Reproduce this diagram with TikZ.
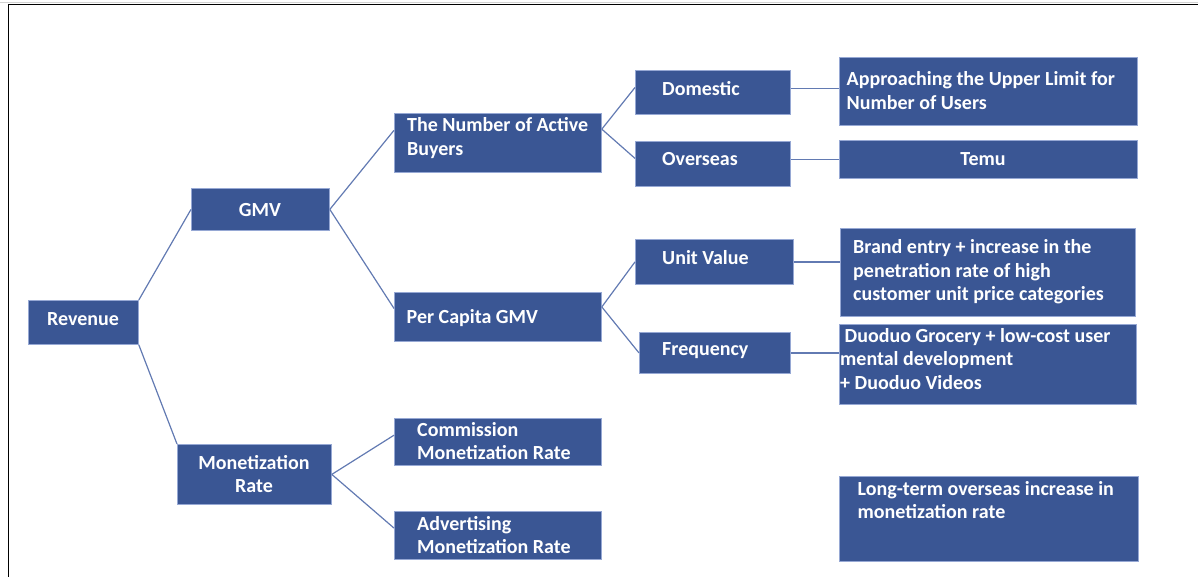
\documentclass[tikz,border=0pt]{standalone}
\usepackage{fontspec}
\setmainfont{Carlito}
\usetikzlibrary{calc}

\definecolor{boxblue}{RGB}{58,86,148}
\definecolor{boxedge}{RGB}{150,168,212}
\definecolor{linkblue}{RGB}{98,122,178}

% stacked text lines whose baseline is that of the first line
\newcommand\rowsL[1]{\vtop{\halign{##\hfil\cr#1\crcr}}}
\newcommand\rowsC[1]{\vtop{\halign{\hfil##\hfil\cr#1\crcr}}}

\begin{document}
\begin{tikzpicture}[x=1pt, y=-1pt,
  box/.style={rectangle, fill=boxblue, draw=boxedge, line width=0.8pt,
              inner sep=0pt, anchor=north west},
  txt/.style={text=white, inner sep=0pt, anchor=base west,
              font=\fontsize{20}{23.3}\selectfont\bfseries},
  txtc/.style={txt, anchor=base},
  link/.style={draw=linkblue, line width=1.2pt}]

\useasboundingbox (0,0) rectangle (1198,577);

% page frame
\draw[gray!35, line width=1pt] (0,2.5) coordinate (gl) -- (1198,2.5) coordinate (gr);
\coordinate (fbl) at (8.5,577);
\coordinate (ftl) at (8.5,4.5);
\coordinate (ftr) at (1198,4.5);
\draw[black, line width=1.2pt] (fbl) -- (ftl) -- (ftr);

% boxes
\node[box, minimum width=110pt, minimum height=44pt] (rev)   at (28,300)  {};
\node[box, minimum width=138pt, minimum height=42pt] (gmv)   at (191,188) {};
\node[box, minimum width=154pt, minimum height=60pt] (mon)   at (177,444) {};
\node[box, minimum width=207pt, minimum height=59pt] (buy)   at (394,113) {};
\node[box, minimum width=207pt, minimum height=49pt] (pc)    at (394,292) {};
\node[box, minimum width=207pt, minimum height=47pt] (com)   at (394,418) {};
\node[box, minimum width=207pt, minimum height=48pt] (adv)   at (394,511) {};
\node[box, minimum width=155pt, minimum height=44pt] (dom)   at (635,70)  {};
\node[box, minimum width=155pt, minimum height=45pt] (ovs)   at (635,141) {};
\node[box, minimum width=158pt, minimum height=45pt] (unit)  at (635,239) {};
\node[box, minimum width=151pt, minimum height=41pt] (freq)  at (639,332) {};
\node[box, minimum width=298pt, minimum height=68pt] (app)   at (839,57)  {};
\node[box, minimum width=298pt, minimum height=38pt] (temu)  at (839,140) {};
\node[box, minimum width=295pt, minimum height=88pt] (brand) at (840,228) {};
\node[box, minimum width=297pt, minimum height=80pt] (duo)   at (839,324) {};
\node[box, minimum width=299pt, minimum height=85pt] (lt)    at (839,476) {};

% box texts
\node[txtc] (rev-t)   at (83,325)    {Revenue};
\node[txtc] (gmv-t)   at (260,217)   {GMV};
\node[txtc] (mon-t)   at (254,469)   {\rowsC{Monetization\cr Rate}};
\node[txt]  (buy-t)   at (407,132)   {\rowsL{The Number of Active\cr Buyers}};
\node[txt]  (pc-t)    at (406.5,323.5) {Per Capita GMV};
\node[txt]  (com-t)   at (417,436.5) {\rowsL{Commission\cr Monetization Rate}};
\node[txt]  (adv-t)   at (417,530)   {\rowsL{Advertising\cr Monetization Rate}};
\node[txt]  (dom-t)   at (662,95.5)  {Domestic};
\node[txt]  (ovs-t)   at (662,166)   {Overseas};
\node[txt]  (unit-t)  at (662,264)   {Unit Value};
\node[txt]  (freq-t)  at (662,355.5) {Frequency};
\node[txt]  (app-t)   at (846.5,86)  {\rowsL{Approaching the Upper Limit for\cr Number of Users}};
\node[txtc] (temu-t)  at (983,165.5) {Temu};
\node[txt]  (brand-t) at (853,254)   {\rowsL{Brand entry + increase in the\cr penetration rate of high\cr customer unit price categories}};
\node[txt]  (duo-t)   at (840,342.5) {\rowsL{\ Duoduo Grocery + low-cost user\cr mental development\cr + Duoduo Videos}};
\node[txt]  (lt-t)    at (857.5,495) {\rowsL{Long-term overseas increase in\cr monetization rate}};

% connectors
\draw[link] (rev.north east) -- (gmv.west);
\draw[link] (rev.south east) -- (mon.north west);
\draw[link] (gmv.east) -- ($(buy.north west)!0.29!(buy.south west)$);
\draw[link] (gmv.east) -- ($(pc.north west)!0.33!(pc.south west)$);
\draw[link] ($(buy.north east)!0.27!(buy.south east)$) -- ($(dom.north west)!0.39!(dom.south west)$);
\draw[link] ($(buy.north east)!0.27!(buy.south east)$) -- ($(ovs.north west)!0.38!(ovs.south west)$);
\draw[link] ($(pc.north east)!0.3!(pc.south east)$) -- (unit.west);
\draw[link] ($(pc.north east)!0.3!(pc.south east)$) -- (freq.west);
\draw[link] ($(dom.north east)!0.41!(dom.south east)$) coordinate (d1) -- (d1 -| app.west);
\draw[link] (ovs.east |- temu.west) -- (temu.west);
\draw[link] (unit.east) -- (unit.east -| brand.west);
\draw[link] (freq.east) -- (freq.east -| duo.west);
\draw[link] (mon.east) -- ($(com.north west)!0.36!(com.south west)$);
\draw[link] (mon.east) -- ($(adv.north west)!0.35!(adv.south west)$);

\end{tikzpicture}
\end{document}
